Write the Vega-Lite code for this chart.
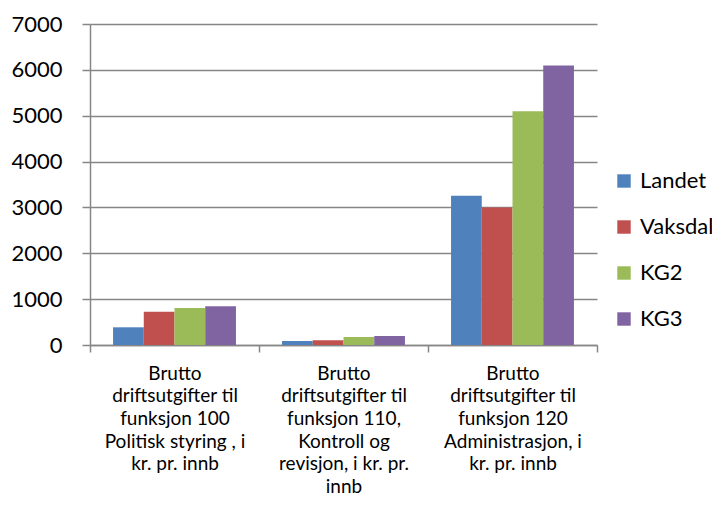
{
  "$schema": "https://vega.github.io/schema/vega-lite/v6.json",
  "width": 507,
  "height": 321,
  "autosize": {"type": "none"},
  "padding": {"left": 90, "top": 24, "right": 115, "bottom": 163},
  "background": "white",
  "config": {"view": {"stroke": null}, "font": "Lato"},
  "data": {
    "values": [
      {"kategori": "Brutto driftsutgifter til funksjon 100 Politisk styring , i kr. pr. innb", "serie": "Landet", "verdi": 386},
      {"kategori": "Brutto driftsutgifter til funksjon 100 Politisk styring , i kr. pr. innb", "serie": "Vaksdal", "verdi": 726},
      {"kategori": "Brutto driftsutgifter til funksjon 100 Politisk styring , i kr. pr. innb", "serie": "KG2", "verdi": 806},
      {"kategori": "Brutto driftsutgifter til funksjon 100 Politisk styring , i kr. pr. innb", "serie": "KG3", "verdi": 843},
      {"kategori": "Brutto driftsutgifter til funksjon 110, Kontroll og revisjon, i kr. pr. innb", "serie": "Landet", "verdi": 87},
      {"kategori": "Brutto driftsutgifter til funksjon 110, Kontroll og revisjon, i kr. pr. innb", "serie": "Vaksdal", "verdi": 102},
      {"kategori": "Brutto driftsutgifter til funksjon 110, Kontroll og revisjon, i kr. pr. innb", "serie": "KG2", "verdi": 174},
      {"kategori": "Brutto driftsutgifter til funksjon 110, Kontroll og revisjon, i kr. pr. innb", "serie": "KG3", "verdi": 196},
      {"kategori": "Brutto driftsutgifter til funksjon 120 Administrasjon, i kr. pr. innb", "serie": "Landet", "verdi": 3253},
      {"kategori": "Brutto driftsutgifter til funksjon 120 Administrasjon, i kr. pr. innb", "serie": "Vaksdal", "verdi": 3000},
      {"kategori": "Brutto driftsutgifter til funksjon 120 Administrasjon, i kr. pr. innb", "serie": "KG2", "verdi": 5098},
      {"kategori": "Brutto driftsutgifter til funksjon 120 Administrasjon, i kr. pr. innb", "serie": "KG3", "verdi": 6094}
    ]
  },
  "mark": {"type": "bar"},
  "encoding": {
    "x": {
      "field": "kategori",
      "type": "nominal",
      "sort": null,
      "scale": {"paddingInner": 0, "paddingOuter": 0},
      "axis": {
        "title": null,
        "labelAngle": 0,
        "tickBand": "extent",
        "labelExpr": "!datum.label ? '' : indexof(datum.label, 'funksjon 100') >= 0 ? ['Brutto', 'driftsutgifter til', 'funksjon 100', 'Politisk styring , i', 'kr. pr. innb'] : indexof(datum.label, 'funksjon 110') >= 0 ? ['Brutto', 'driftsutgifter til', 'funksjon 110,', 'Kontroll og', 'revisjon, i kr. pr.', 'innb'] : indexof(datum.label, 'funksjon 120') >= 0 ? ['Brutto', 'driftsutgifter til', 'funksjon 120', 'Administrasjon, i', 'kr. pr. innb'] : ''",
        "labelFont": "Lato",
        "labelFontSize": 19,
        "labelLineHeight": 22.7,
        "labelColor": "#000000",
        "labelPadding": 12,
        "domainColor": "#868686",
        "domainWidth": 1.5,
        "tickColor": "#868686",
        "tickWidth": 1.5,
        "tickSize": 7
      }
    },
    "xOffset": {
      "field": "serie",
      "sort": ["Landet", "Vaksdal", "KG2", "KG3"],
      "scale": {"paddingInner": 0, "paddingOuter": 0.75}
    },
    "y": {
      "field": "verdi",
      "type": "quantitative",
      "scale": {"domain": [0, 7000], "nice": false},
      "axis": {
        "title": null,
        "values": [0, 1000, 2000, 3000, 4000, 5000, 6000, 7000],
        "format": "d",
        "grid": true,
        "gridColor": "#868686",
        "gridWidth": 1.5,
        "domainColor": "#868686",
        "domainWidth": 1.5,
        "tickColor": "#868686",
        "tickWidth": 1.5,
        "tickSize": 8,
        "labelPadding": 20,
        "labelFont": "Lato",
        "labelFontSize": 22,
        "labelColor": "#000000"
      }
    },
    "color": {
      "field": "serie",
      "type": "nominal",
      "sort": ["Landet", "Vaksdal", "KG2", "KG3"],
      "scale": {"domain": ["Landet", "Vaksdal", "KG2", "KG3"], "range": ["#4F81BD", "#C0504D", "#9BBB59", "#8064A2"]},
      "legend": {
        "title": null,
        "orient": "none",
        "legendX": 523,
        "legendY": 146,
        "symbolType": "square",
        "symbolSize": 180,
        "symbolStrokeWidth": 0,
        "labelFont": "Lato",
        "labelFontSize": 22,
        "labelColor": "#000000",
        "labelOffset": 5,
        "rowPadding": 24
      }
    }
  }
}
